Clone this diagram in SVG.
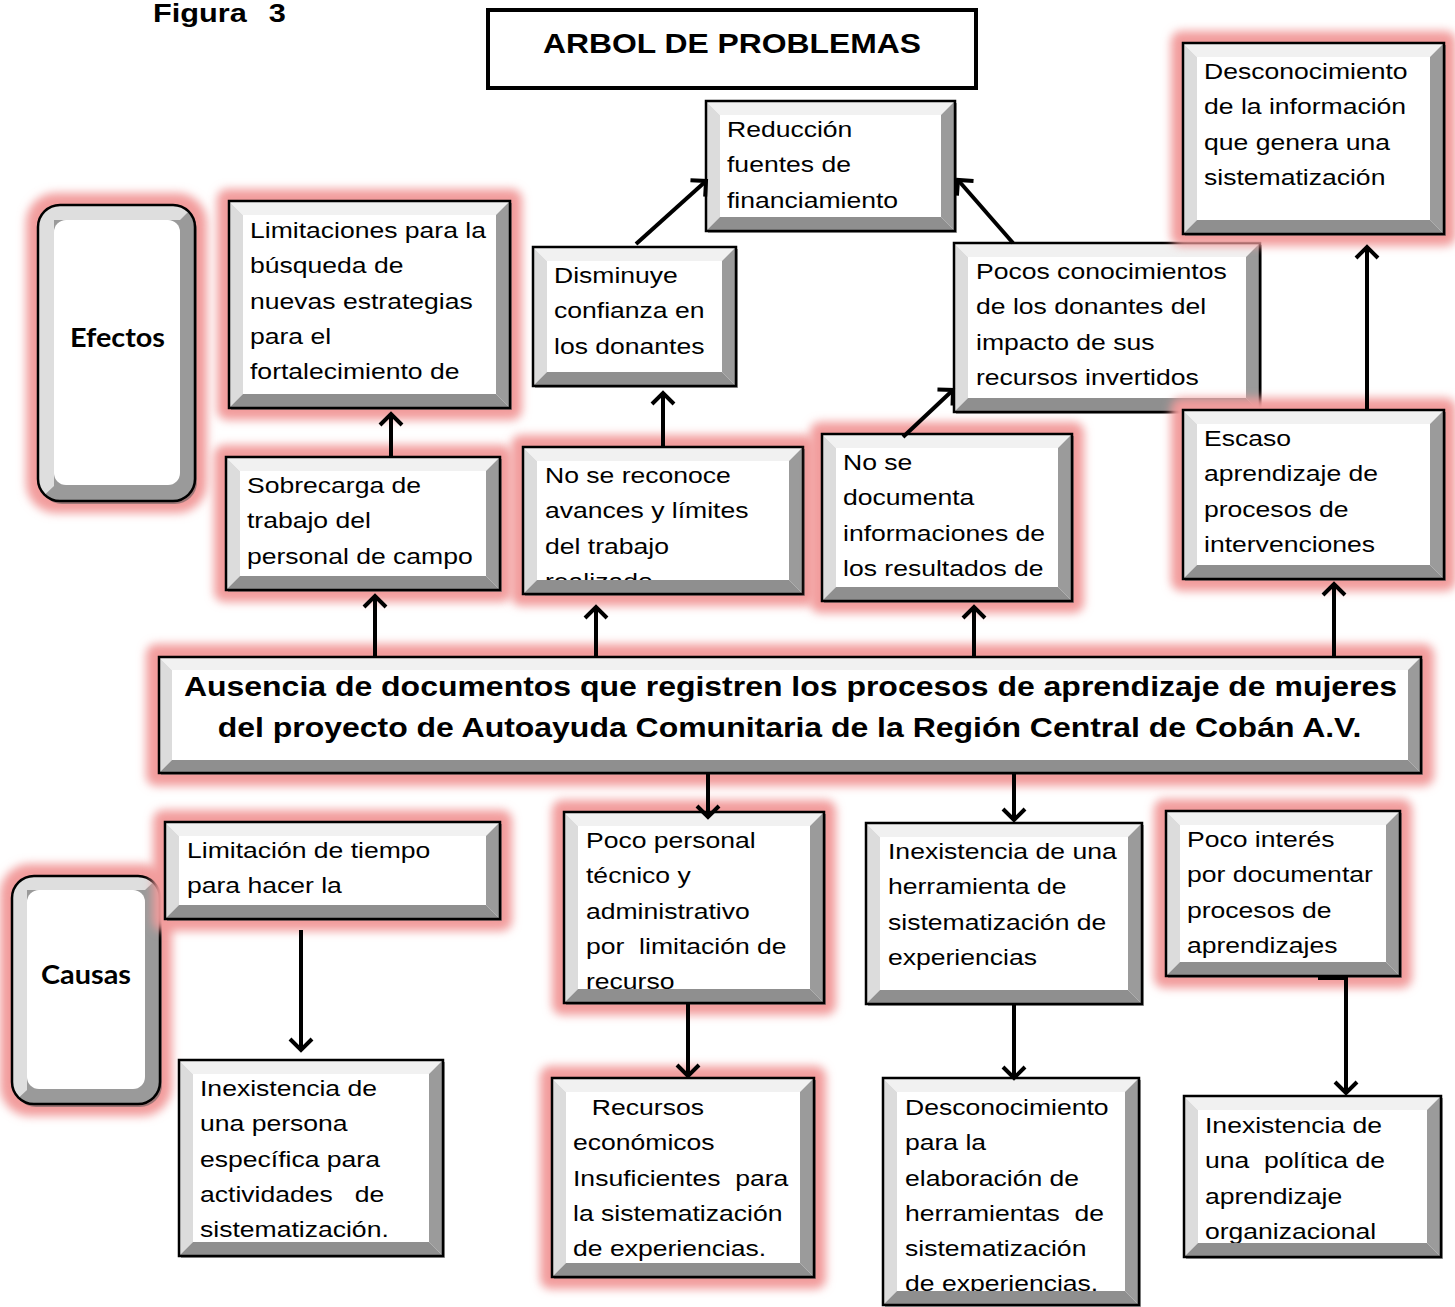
<svg xmlns="http://www.w3.org/2000/svg" width="1455" height="1307" viewBox="0 0 1455 1307">
<style>
.glow{fill:#f29c9c;filter:url(#blur)}
.shadow{fill:#555;opacity:.55}
.face{fill:#fff}
.bl{fill:#dcdcdc}.bt{fill:#f1f1f1}.br{fill:#9b9b9b}.bb{fill:#8f8f8f}
.frame{fill:none;stroke:#000;stroke-width:2.5}
.t{font-family:"Liberation Sans",Arial,sans-serif;font-size:22.5px;fill:#000}
.tb{font-family:"Liberation Sans",Arial,sans-serif;font-weight:bold;fill:#000}
.lab{font-family:Lato,"Open Sans",sans-serif;font-weight:bold;font-size:27px;fill:#000}
.c{stroke:#000;stroke-width:4;fill:none;marker-end:url(#ah)}
</style>
<defs>
<filter id="blur" x="-30%" y="-30%" width="160%" height="160%"><feGaussianBlur stdDeviation="5"/></filter>
<marker id="ah" markerUnits="userSpaceOnUse" viewBox="-16 -16 32 32" markerWidth="32" markerHeight="32" refX="0" refY="0" orient="auto"><path d="M-11,-11 L0,0 L-11,11" fill="none" stroke="#000" stroke-width="4"/></marker>
<clipPath id="cpE"><rect width="157" height="296" rx="22"/></clipPath>
<clipPath id="cpC"><rect width="148" height="228" rx="22"/></clipPath>
</defs>
<rect width="1455" height="1307" fill="#fff"/>

<g id="figura"><text class="tb" font-size="26" transform="translate(153 22) scale(1.18 1)"><tspan x="0">Figura</tspan><tspan x="98">3</tspan></text></g>

<g id="titulo">
<rect x="488" y="10" width="488" height="78" fill="#fff" stroke="#000" stroke-width="4"/>
<text class="tb" font-size="27" text-anchor="middle" transform="translate(732 53) scale(1.18 1)">ARBOL DE PROBLEMAS</text>
</g>

<g id="efectos" transform="translate(38 205)">
<rect class="glow" x="-12" y="-12" width="181" height="320" rx="30"/>
<rect class="shadow" x="2" y="3" width="157" height="296" rx="22"/>
<rect width="157" height="296" rx="22" fill="#9a9a9a"/>
<polygon clip-path="url(#cpE)" points="0,0 157,0 142,15 16,15 16,281 0,296" fill="#dedede"/>
<rect x="16" y="15" width="126" height="265" rx="12" fill="#fff"/>
<rect class="frame" width="157" height="296" rx="22"/>
<text class="lab" x="79.5" y="142" text-anchor="middle" textLength="95" lengthAdjust="spacingAndGlyphs">Efectos</text>
</g>

<g id="causas" transform="translate(12 876)">
<rect class="glow" x="-12" y="-12" width="172" height="252" rx="30"/>
<rect class="shadow" x="2" y="3" width="148" height="228" rx="22"/>
<rect width="148" height="228" rx="22" fill="#9a9a9a"/>
<polygon clip-path="url(#cpC)" points="0,0 148,0 133,14 15,14 15,214 0,228" fill="#dedede"/>
<rect x="15" y="14" width="118" height="199" rx="12" fill="#fff"/>
<rect class="frame" width="148" height="228" rx="22"/>
<text class="lab" x="74" y="108" text-anchor="middle" textLength="90" lengthAdjust="spacingAndGlyphs">Causas</text>
</g>

<g id="reduccion" transform="translate(706 101)">
<rect class="shadow" x="2" y="2" width="249" height="130"/>
<rect class="face" width="249" height="130"/>
<text class="t" transform="translate(21 0) scale(1.18 1)"><tspan x="0" y="36">Reducción</tspan><tspan x="0" y="71.3">fuentes de</tspan><tspan x="0" y="106.6">financiamiento</tspan></text>
<path class="bl" d="M0,0 L14,14 V116 L0,130 Z"/><path class="bt" d="M0,0 H249 L235,14 H14 Z"/><path class="br" d="M249,0 V130 L235,116 V14 Z"/><path class="bb" d="M0,130 H249 L235,116 H14 Z"/>
<rect class="frame" width="249" height="130"/>
</g>

<g id="limitaciones" transform="translate(229 201)">
<rect class="glow" x="-12" y="-12" width="305" height="231" rx="10"/>
<rect class="shadow" x="2" y="2" width="281" height="207"/>
<rect class="face" width="281" height="207"/>
<text class="t" transform="translate(21 0) scale(1.18 1)"><tspan x="0" y="37">Limitaciones para la</tspan><tspan x="0" y="72.3">búsqueda de</tspan><tspan x="0" y="107.6">nuevas estrategias</tspan><tspan x="0" y="142.9">para el</tspan><tspan x="0" y="178.2">fortalecimiento de</tspan></text>
<path class="bl" d="M0,0 L14,14 V193 L0,207 Z"/><path class="bt" d="M0,0 H281 L267,14 H14 Z"/><path class="br" d="M281,0 V207 L267,193 V14 Z"/><path class="bb" d="M0,207 H281 L267,193 H14 Z"/>
<rect class="frame" width="281" height="207"/>
</g>

<g id="disminuye" transform="translate(533 247)">
<rect class="shadow" x="2" y="2" width="203" height="139"/>
<rect class="face" width="203" height="139"/>
<text class="t" transform="translate(21 0) scale(1.18 1)"><tspan x="0" y="36">Disminuye</tspan><tspan x="0" y="71.3">confianza en</tspan><tspan x="0" y="106.6">los donantes</tspan></text>
<path class="bl" d="M0,0 L14,14 V125 L0,139 Z"/><path class="bt" d="M0,0 H203 L189,14 H14 Z"/><path class="br" d="M203,0 V139 L189,125 V14 Z"/><path class="bb" d="M0,139 H203 L189,125 H14 Z"/>
<rect class="frame" width="203" height="139"/>
</g>

<g id="pocos" transform="translate(954 243)">
<rect class="shadow" x="2" y="2" width="306" height="169"/>
<rect class="face" width="306" height="169"/>
<text class="t" transform="translate(22 0) scale(1.18 1)"><tspan x="0" y="36">Pocos conocimientos</tspan><tspan x="0" y="71.3">de los donantes del</tspan><tspan x="0" y="106.6">impacto de sus</tspan><tspan x="0" y="141.9">recursos invertidos</tspan></text>
<path class="bl" d="M0,0 L14,14 V155 L0,169 Z"/><path class="bt" d="M0,0 H306 L292,14 H14 Z"/><path class="br" d="M306,0 V169 L292,155 V14 Z"/><path class="bb" d="M0,169 H306 L292,155 H14 Z"/>
<rect class="frame" width="306" height="169"/>
</g>

<g id="desconocimiento-info" transform="translate(1183 43)">
<rect class="glow" x="-12" y="-12" width="285" height="215" rx="10"/>
<rect class="shadow" x="2" y="2" width="261" height="191"/>
<rect class="face" width="261" height="191"/>
<text class="t" transform="translate(21 0) scale(1.18 1)"><tspan x="0" y="36">Desconocimiento</tspan><tspan x="0" y="71.3">de la información</tspan><tspan x="0" y="106.6">que genera una</tspan><tspan x="0" y="141.9">sistematización</tspan></text>
<path class="bl" d="M0,0 L14,14 V177 L0,191 Z"/><path class="bt" d="M0,0 H261 L247,14 H14 Z"/><path class="br" d="M261,0 V191 L247,177 V14 Z"/><path class="bb" d="M0,191 H261 L247,177 H14 Z"/>
<rect class="frame" width="261" height="191"/>
</g>

<g id="sobrecarga" transform="translate(226 457)">
<rect class="glow" x="-12" y="-12" width="298" height="157" rx="10"/>
<rect class="shadow" x="2" y="2" width="274" height="133"/>
<rect class="face" width="274" height="133"/>
<text class="t" transform="translate(21 0) scale(1.18 1)"><tspan x="0" y="36">Sobrecarga de</tspan><tspan x="0" y="71.3">trabajo del</tspan><tspan x="0" y="106.6">personal de campo</tspan></text>
<path class="bl" d="M0,0 L14,14 V119 L0,133 Z"/><path class="bt" d="M0,0 H274 L260,14 H14 Z"/><path class="br" d="M274,0 V133 L260,119 V14 Z"/><path class="bb" d="M0,133 H274 L260,119 H14 Z"/>
<rect class="frame" width="274" height="133"/>
</g>

<g id="no-reconoce" transform="translate(523 447)">
<rect class="glow" x="-12" y="-12" width="304" height="171" rx="10"/>
<rect class="shadow" x="2" y="2" width="280" height="147"/>
<rect class="face" width="280" height="147"/>
<text class="t" transform="translate(22 0) scale(1.18 1)"><tspan x="0" y="36">No se reconoce</tspan><tspan x="0" y="71.3">avances y límites</tspan><tspan x="0" y="106.6">del trabajo</tspan><tspan x="0" y="141.9">realizado</tspan></text>
<path class="bl" d="M0,0 L14,14 V133 L0,147 Z"/><path class="bt" d="M0,0 H280 L266,14 H14 Z"/><path class="br" d="M280,0 V147 L266,133 V14 Z"/><path class="bb" d="M0,147 H280 L266,133 H14 Z"/>
<rect class="frame" width="280" height="147"/>
</g>

<g id="no-documenta" transform="translate(822 434)">
<rect class="glow" x="-12" y="-12" width="274" height="191" rx="10"/>
<rect class="shadow" x="2" y="2" width="250" height="167"/>
<rect class="face" width="250" height="167"/>
<text class="t" transform="translate(21 0) scale(1.18 1)"><tspan x="0" y="36">No se</tspan><tspan x="0" y="71.3">documenta</tspan><tspan x="0" y="106.6">informaciones de</tspan><tspan x="0" y="141.9">los resultados de</tspan></text>
<path class="bl" d="M0,0 L14,14 V153 L0,167 Z"/><path class="bt" d="M0,0 H250 L236,14 H14 Z"/><path class="br" d="M250,0 V167 L236,153 V14 Z"/><path class="bb" d="M0,167 H250 L236,153 H14 Z"/>
<rect class="frame" width="250" height="167"/>
</g>

<g id="escaso" transform="translate(1183 410)">
<rect class="glow" x="-12" y="-12" width="285" height="193" rx="10"/>
<rect class="shadow" x="2" y="2" width="261" height="169"/>
<rect class="face" width="261" height="169"/>
<text class="t" transform="translate(21 0) scale(1.18 1)"><tspan x="0" y="36">Escaso</tspan><tspan x="0" y="71.3">aprendizaje de</tspan><tspan x="0" y="106.6">procesos de</tspan><tspan x="0" y="141.9">intervenciones</tspan></text>
<path class="bl" d="M0,0 L14,14 V155 L0,169 Z"/><path class="bt" d="M0,0 H261 L247,14 H14 Z"/><path class="br" d="M261,0 V169 L247,155 V14 Z"/><path class="bb" d="M0,169 H261 L247,155 H14 Z"/>
<rect class="frame" width="261" height="169"/>
</g>

<g id="central" transform="translate(159 657)">
<rect class="glow" x="-13" y="-13" width="1288" height="142" rx="10"/>
<rect class="shadow" x="2" y="2" width="1262" height="116"/>
<rect class="face" width="1262" height="116"/>
<text class="tb" font-size="27.1" text-anchor="middle" transform="translate(631.5 39) scale(1.18 1)">Ausencia de documentos que registren los procesos de aprendizaje de mujeres</text>
<text class="tb" font-size="27.1" text-anchor="middle" transform="translate(630.5 80) scale(1.18 1)">del proyecto de Autoayuda Comunitaria de la Región Central de Cobán A.V.</text>
<path class="bl" d="M0,0 L13,13 V103 L0,116 Z"/><path class="bt" d="M0,0 H1262 L1249,13 H13 Z"/><path class="br" d="M1262,0 V116 L1249,103 V13 Z"/><path class="bb" d="M0,116 H1262 L1249,103 H13 Z"/>
<rect class="frame" width="1262" height="116"/>
</g>

<g id="limitacion-tiempo" transform="translate(165 822)">
<rect class="glow" x="-12" y="-12" width="359" height="121" rx="10"/>
<rect class="shadow" x="2" y="2" width="335" height="97"/>
<rect class="face" width="335" height="97"/>
<text class="t" transform="translate(22 0) scale(1.18 1)"><tspan x="0" y="36">Limitación de tiempo</tspan><tspan x="0" y="71.3">para hacer la</tspan></text>
<path class="bl" d="M0,0 L14,14 V83 L0,97 Z"/><path class="bt" d="M0,0 H335 L321,14 H14 Z"/><path class="br" d="M335,0 V97 L321,83 V14 Z"/><path class="bb" d="M0,97 H335 L321,83 H14 Z"/>
<rect class="frame" width="335" height="97"/>
</g>

<g id="poco-personal" transform="translate(564 812)">
<rect class="glow" x="-12" y="-12" width="284" height="215" rx="10"/>
<rect class="shadow" x="2" y="2" width="260" height="191"/>
<rect class="face" width="260" height="191"/>
<text class="t" xml:space="preserve" transform="translate(22 0) scale(1.18 1)"><tspan x="0" y="36">Poco personal</tspan><tspan x="0" y="71.3">técnico y</tspan><tspan x="0" y="106.6">administrativo</tspan><tspan x="0" y="141.9">por  limitación de</tspan><tspan x="0" y="177.2">recurso</tspan></text>
<path class="bl" d="M0,0 L14,14 V177 L0,191 Z"/><path class="bt" d="M0,0 H260 L246,14 H14 Z"/><path class="br" d="M260,0 V191 L246,177 V14 Z"/><path class="bb" d="M0,191 H260 L246,177 H14 Z"/>
<rect class="frame" width="260" height="191"/>
</g>

<g id="inexistencia-herramienta" transform="translate(866 823)">
<rect class="shadow" x="2" y="2" width="276" height="181"/>
<rect class="face" width="276" height="181"/>
<text class="t" transform="translate(22 0) scale(1.18 1)"><tspan x="0" y="36">Inexistencia de una</tspan><tspan x="0" y="71.3">herramienta de</tspan><tspan x="0" y="106.6">sistematización de</tspan><tspan x="0" y="141.9">experiencias</tspan></text>
<path class="bl" d="M0,0 L14,14 V167 L0,181 Z"/><path class="bt" d="M0,0 H276 L262,14 H14 Z"/><path class="br" d="M276,0 V181 L262,167 V14 Z"/><path class="bb" d="M0,181 H276 L262,167 H14 Z"/>
<rect class="frame" width="276" height="181"/>
</g>

<g id="poco-interes" transform="translate(1166 811)">
<rect class="glow" x="-12" y="-12" width="258" height="189" rx="10"/>
<rect class="shadow" x="2" y="2" width="234" height="165"/>
<rect class="face" width="234" height="165"/>
<text class="t" transform="translate(21 0) scale(1.18 1)"><tspan x="0" y="36">Poco interés</tspan><tspan x="0" y="71.3">por documentar</tspan><tspan x="0" y="106.6">procesos de</tspan><tspan x="0" y="141.9">aprendizajes</tspan></text>
<path class="bl" d="M0,0 L14,14 V151 L0,165 Z"/><path class="bt" d="M0,0 H234 L220,14 H14 Z"/><path class="br" d="M234,0 V165 L220,151 V14 Z"/><path class="bb" d="M0,165 H234 L220,151 H14 Z"/>
<rect class="frame" width="234" height="165"/>
</g>

<g id="inexistencia-persona" transform="translate(179 1060)">
<rect class="shadow" x="2" y="2" width="264" height="196"/>
<rect class="face" width="264" height="196"/>
<text class="t" xml:space="preserve" transform="translate(21 0) scale(1.18 1)"><tspan x="0" y="36">Inexistencia de</tspan><tspan x="0" y="71.3">una persona</tspan><tspan x="0" y="106.6">específica para</tspan><tspan x="0" y="141.9">actividades   de</tspan><tspan x="0" y="177.2">sistematización.</tspan></text>
<path class="bl" d="M0,0 L14,14 V182 L0,196 Z"/><path class="bt" d="M0,0 H264 L250,14 H14 Z"/><path class="br" d="M264,0 V196 L250,182 V14 Z"/><path class="bb" d="M0,196 H264 L250,182 H14 Z"/>
<rect class="frame" width="264" height="196"/>
</g>

<g id="recursos" transform="translate(552 1078)">
<rect class="glow" x="-12" y="-12" width="286" height="223" rx="10"/>
<rect class="shadow" x="2" y="2" width="262" height="199"/>
<rect class="face" width="262" height="199"/>
<text class="t" xml:space="preserve" transform="translate(21 0) scale(1.18 1)"><tspan x="16" y="37">Recursos</tspan><tspan x="0" y="72.3">económicos</tspan><tspan x="0" y="107.6">Insuficientes  para</tspan><tspan x="0" y="142.9">la sistematización</tspan><tspan x="0" y="178.2">de experiencias.</tspan></text>
<path class="bl" d="M0,0 L14,14 V185 L0,199 Z"/><path class="bt" d="M0,0 H262 L248,14 H14 Z"/><path class="br" d="M262,0 V199 L248,185 V14 Z"/><path class="bb" d="M0,199 H262 L248,185 H14 Z"/>
<rect class="frame" width="262" height="199"/>
</g>

<g id="desconocimiento-elaboracion" transform="translate(883 1078)">
<rect class="shadow" x="2" y="2" width="256" height="227"/>
<rect class="face" width="256" height="227"/>
<text class="t" xml:space="preserve" transform="translate(22 0) scale(1.18 1)"><tspan x="0" y="37">Desconocimiento</tspan><tspan x="0" y="72.3">para la</tspan><tspan x="0" y="107.6">elaboración de</tspan><tspan x="0" y="142.9">herramientas  de</tspan><tspan x="0" y="178.2">sistematización</tspan><tspan x="0" y="213.5">de experiencias.</tspan></text>
<path class="bl" d="M0,0 L14,14 V213 L0,227 Z"/><path class="bt" d="M0,0 H256 L242,14 H14 Z"/><path class="br" d="M256,0 V227 L242,213 V14 Z"/><path class="bb" d="M0,227 H256 L242,213 H14 Z"/>
<rect class="frame" width="256" height="227"/>
</g>

<g id="inexistencia-politica" transform="translate(1184 1096)">
<rect class="shadow" x="2" y="2" width="257" height="161"/>
<rect class="face" width="257" height="161"/>
<text class="t" xml:space="preserve" transform="translate(21 0) scale(1.18 1)"><tspan x="0" y="37">Inexistencia de</tspan><tspan x="0" y="72.3">una  política de</tspan><tspan x="0" y="107.6">aprendizaje</tspan><tspan x="0" y="142.9">organizacional</tspan></text>
<path class="bl" d="M0,0 L14,14 V147 L0,161 Z"/><path class="bt" d="M0,0 H257 L243,14 H14 Z"/><path class="br" d="M257,0 V161 L243,147 V14 Z"/><path class="bb" d="M0,161 H257 L243,147 H14 Z"/>
<rect class="frame" width="257" height="161"/>
</g>

<g id="connectors">
<path class="c" d="M391,457 V414"/>
<path class="c" d="M375,657 V596"/>
<path class="c" d="M596,657 V607"/>
<path class="c" d="M974,657 V607"/>
<path class="c" d="M1334,657 V584"/>
<path class="c" d="M663,447 V393"/>
<path class="c" d="M636,244 L706,181"/>
<path class="c" d="M1013,243 L958,180"/>
<path class="c" d="M903,437 L953,390"/>
<path class="c" d="M1367,410 V247"/>
<path class="c" d="M708,773 V817"/>
<path class="c" d="M1014,773 V820"/>
<path class="c" d="M301,930 V1050"/>
<path class="c" d="M688,1003 V1076"/>
<path class="c" d="M1014,1004 V1078"/>
<path class="c" d="M1318,978 H1346 V1093"/>
</g>
</svg>
